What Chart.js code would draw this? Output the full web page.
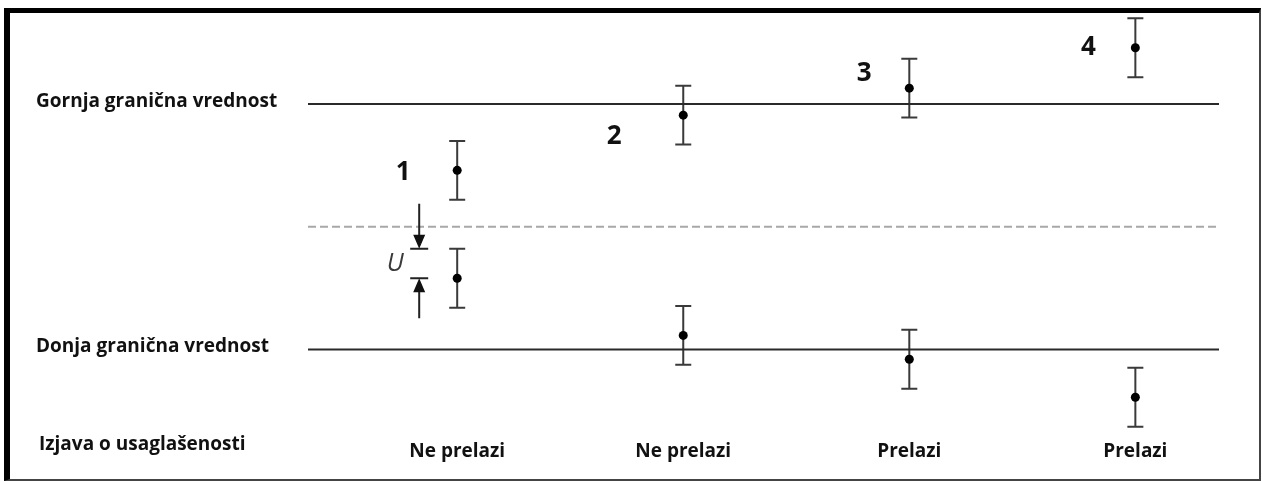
<!DOCTYPE html>
<html>
<head>
<meta charset="utf-8">
<script src="https://cdn.jsdelivr.net/npm/chart.js@4.4.1/dist/chart.umd.min.js"></script>
<style>
  html, body { margin: 0; padding: 0; background: #fff; }
  #wrap { position: relative; width: 1262px; height: 481px; }
  #frame {
    position: absolute; left: 4px; top: 8px; width: 1257px; height: 473px; box-sizing: border-box;
    border-left: 6px solid #000; border-top: 5px solid #000;
    border-right: 2px solid #444; border-bottom: 2px solid #444;
    pointer-events: none;
  }
</style>
</head>
<body>
<div id="wrap">
  <canvas id="myChart" width="1262" height="481"></canvas>
  <div id="frame"></div>
</div>
<script>
let measurements = [1, 2, 3, 4];
let upperResults = [7.3, 9.55, 10.65, 12.3];
let lowerResults = [2.9, 0.57, -0.4, -1.95];
let uncertainty = 1.2;
let upperLimit = 10;
let lowerLimit = 0;
let midLine = 5;
let verdicts = ['Ne prelazi', 'Ne prelazi', 'Prelazi', 'Prelazi'];
let limitLabels = ['Donja granična vrednost', 'Gornja granična vrednost'];
let caseLabels = ['1', '2', '3', '4'];
let rowTitle = 'Izjava o usaglašenosti';

const xMin = 0.34, xMax = 4.37;
const textFont = { family: '"Open Sans", sans-serif', size: 19, weight: 'bold' };

Chart.defaults.font.family = textFont.family;
Chart.defaults.color = '#111';

function hLine(y, dashed) {
  return {
    data: [{ x: xMin, y: y }, { x: xMax, y: y }],
    showLine: true,
    borderColor: dashed ? '#a8a8a8' : '#2a2a2a',
    borderWidth: 2,
    borderDash: dashed ? [8, 4] : [],
    pointRadius: 0
  };
}

let points = measurements.map((m, i) => ({ x: m, y: upperResults[i] }))
  .concat(measurements.map((m, i) => ({ x: m, y: lowerResults[i] })));

// error bars (+/- U) under the points
const errorBars = {
  id: 'errorBars',
  beforeDatasetsDraw(chart) {
    const { ctx, scales: { x, y } } = chart;
    ctx.save();
    ctx.strokeStyle = '#3a3a3a';
    ctx.lineWidth = 2;
    [upperResults, lowerResults].forEach(arr => arr.forEach((v, i) => {
      const px = x.getPixelForValue(measurements[i]);
      const top = y.getPixelForValue(v + uncertainty);
      const bot = y.getPixelForValue(v - uncertainty);
      ctx.beginPath();
      ctx.moveTo(px, top); ctx.lineTo(px, bot);
      ctx.moveTo(px - 8, top); ctx.lineTo(px + 8, top);
      ctx.moveTo(px - 8, bot); ctx.lineTo(px + 8, bot);
      ctx.stroke();
    }));
    ctx.restore();
  }
};

// case numbers, the U marker and the row title
const notes = {
  id: 'notes',
  afterDraw(chart) {
    const { ctx, scales: { x, y } } = chart;
    ctx.save();
    ctx.fillStyle = '#111';
    ctx.textAlign = 'center';
    ctx.textBaseline = 'middle';
    ctx.font = 'bold 26px "Open Sans", sans-serif';
    const offs = [[-54, 2], [-69, 21], [-45, -15], [-47, 0]];
    caseLabels.forEach((t, i) => {
      ctx.fillText(t, x.getPixelForValue(measurements[i]) + offs[i][0], y.getPixelForValue(upperResults[i]) + offs[i][1]);
    });

    // U arrows next to the first lower result
    const ax = x.getPixelForValue(measurements[0]) - 38;
    const capTop = y.getPixelForValue(lowerResults[0] + uncertainty);
    const capBot = y.getPixelForValue(lowerResults[0]);
    ctx.strokeStyle = '#222';
    ctx.fillStyle = '#111';
    ctx.lineWidth = 2;
    ctx.beginPath();
    ctx.moveTo(ax - 9, capTop); ctx.lineTo(ax + 9, capTop);
    ctx.moveTo(ax - 9, capBot); ctx.lineTo(ax + 9, capBot);
    ctx.moveTo(ax, capTop - 45); ctx.lineTo(ax, capTop - 12);
    ctx.moveTo(ax, capBot + 12); ctx.lineTo(ax, capBot + 40);
    ctx.stroke();
    ctx.beginPath();
    ctx.moveTo(ax, capTop); ctx.lineTo(ax - 6, capTop - 14); ctx.lineTo(ax + 6, capTop - 14); ctx.closePath();
    ctx.moveTo(ax, capBot); ctx.lineTo(ax - 6, capBot + 14); ctx.lineTo(ax + 6, capBot + 14); ctx.closePath();
    ctx.fill();
    ctx.fillStyle = '#3a3a3a';
    ctx.font = 'italic 25px "Open Sans", sans-serif';
    ctx.fillText('U', ax - 24, (capTop + capBot) / 2);

    ctx.font = 'bold 19px "Open Sans", sans-serif';
    ctx.fillStyle = '#111';
    ctx.textAlign = 'left';
    ctx.fillText(rowTitle, y.left + 3, 445);
    ctx.restore();
  }
};

let ctx = document.getElementById('myChart').getContext('2d');
let myChart = new Chart(ctx, {
  type: 'scatter',
  data: {
    datasets: [
      hLine(upperLimit, false),
      hLine(lowerLimit, false),
      hLine(midLine, true),
      {
        data: points,
        pointRadius: 4.5,
        pointBackgroundColor: '#000',
        pointBorderWidth: 0
      }
    ]
  },
  options: {
    responsive: false,
    animation: false,
    layout: { padding: { left: 36, right: 43, top: 6, bottom: 0 } },
    plugins: { legend: { display: false }, tooltip: { enabled: false } },
    scales: {
      x: {
        type: 'linear',
        position: 'bottom',
        min: xMin,
        max: xMax,
        grid: { display: false, drawTicks: false },
        border: { display: false },
        afterFit: s => { s.height = 58; },
        afterBuildTicks: s => { s.ticks = measurements.map(v => ({ value: v })); },
        ticks: {
          padding: 17,
          autoSkip: false,
          maxRotation: 0,
          color: '#111',
          font: textFont,
          callback: (v, i) => verdicts[i]
        }
      },
      y: {
        type: 'linear',
        min: -3,
        max: 14,
        grid: { display: false, drawTicks: false },
        border: { display: false },
        afterFit: s => { s.width = 272; s.paddingTop = 0; s.paddingBottom = 0; },
        afterBuildTicks: s => { s.ticks = [{ value: lowerLimit }, { value: upperLimit }]; },
        ticks: {
          crossAlign: 'far',
          labelOffset: -3,
          color: '#111',
          font: textFont,
          callback: v => v === upperLimit ? limitLabels[1] : limitLabels[0]
        }
      }
    }
  },
  plugins: [errorBars, notes]
});
</script>
</body>
</html>
